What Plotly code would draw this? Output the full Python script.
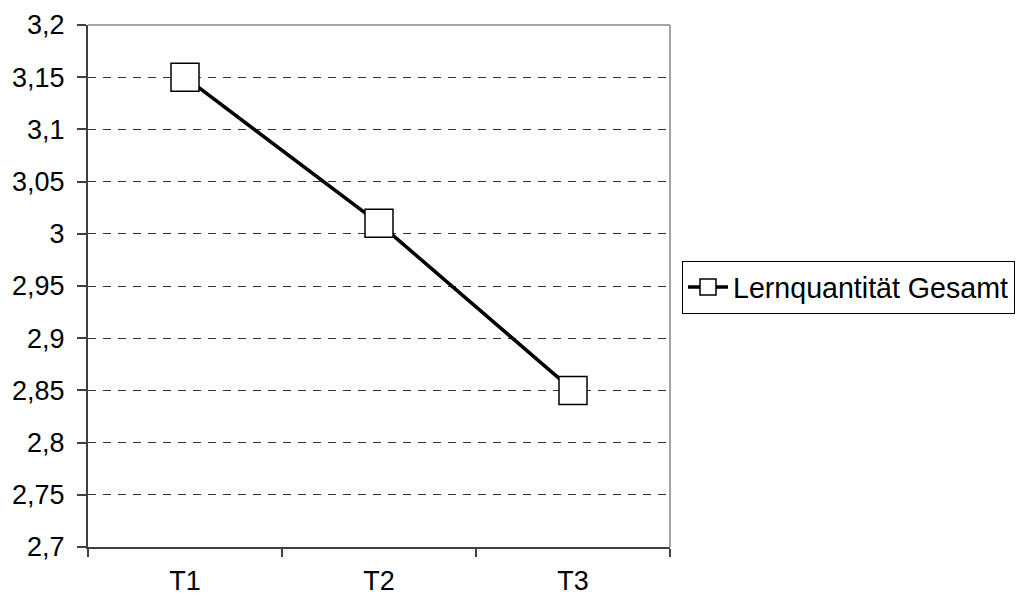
import plotly.graph_objects as go

categories = ["T1", "T2", "T3"]
values = [3.15, 3.01, 2.85]
series_name = "Lernquantität Gesamt"
y_ticks = [2.7, 2.75, 2.8, 2.85, 2.9, 2.95, 3.0, 3.05, 3.1, 3.15, 3.2]
y_labels = ["2,7", "2,75", "2,8", "2,85", "2,9", "2,95", "3", "3,05", "3,1", "3,15", "3,2"]

font = dict(family="Liberation Sans, Arial, sans-serif", size=27, color="black")
legend_font = dict(family="Liberation Sans, Arial, sans-serif", size=28.6, color="black")

fig = go.Figure()
fig.add_trace(go.Scatter(
    x=categories, y=values, name=series_name, mode="lines+markers",
    line=dict(color="black", width=3.5),
    marker=dict(symbol="square", size=28, color="white",
                line=dict(color="black", width=1.5)),
    showlegend=True,
))

fig.update_layout(
    width=1017, height=599,
    margin=dict(l=88, r=347, t=25, b=52, autoexpand=False),
    paper_bgcolor="white", plot_bgcolor="white",
    font=font,
    showlegend=True,
    legend=dict(xref="container", yref="container",
                x=0.6706, y=0.52, xanchor="left", yanchor="middle",
                bordercolor="black", borderwidth=1, bgcolor="white",
                font=legend_font, itemwidth=40, tracegroupgap=0),
    xaxis=dict(
        type="category", range=[-0.5, 2.5], automargin=False,
        showline=True, linecolor="#404040", linewidth=2,
        ticks="outside", tickson="boundaries", ticklen=8,
        tickcolor="#404040", tickwidth=1.5, ticklabelstandoff=9,
        showgrid=False, zeroline=False, tickfont=font,
    ),
    yaxis=dict(
        range=[2.7, 3.2], tickvals=y_ticks, ticktext=y_labels, automargin=False,
        showline=True, linecolor="#404040", linewidth=2,
        ticks="outside", ticklen=9, tickcolor="#404040", tickwidth=1.5,
        ticklabelstandoff=7,
        showgrid=True, gridcolor="#333333", griddash="8px,7px", gridwidth=1,
        zeroline=False, tickfont=font,
    ),
    shapes=[
        dict(type="line", xref="paper", yref="paper", x0=0, x1=1, y0=1, y1=1,
             line=dict(color="#888888", width=1.5)),
        dict(type="line", xref="paper", yref="paper", x0=1, x1=1, y0=0, y1=1,
             line=dict(color="#888888", width=1.5)),
    ],
)

fig.write_html("out.html")
